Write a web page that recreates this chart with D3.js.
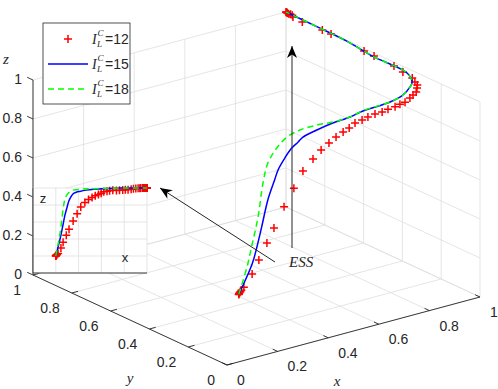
<!DOCTYPE html>
<html>
<head>
<meta charset="utf-8">
<script src="https://cdn.jsdelivr.net/npm/d3@7"></script>
<style>
  body { margin: 0; background: #fff; }
  svg { display: block; }
  text { font-family: Arial, "Liberation Sans", sans-serif; fill: #262626; }
  .latex { font-family: "Liberation Serif", "DejaVu Serif", serif; font-style: italic; }
</style>
</head>
<body>
<svg id="chart" width="498" height="389"></svg>
<script>
// tick values / labels shared by the three axes
var ticks = [0, 0.2, 0.4, 0.6, 0.8, 1];
var tickLabels = ["0", "0.2", "0.4", "0.6", "0.8", "1"];
var legendValues = [12, 15, 18];

// trajectories, points are [x, y, z]
var red12 = [
  [0.2, 0.2, 0.2], [0.201, 0.2, 0.203], [0.203, 0.2, 0.207], [0.206, 0.2, 0.212], [0.21, 0.2, 0.218],
  [0.22, 0.2, 0.23], [0.245, 0.19, 0.294], [0.264, 0.18, 0.363], [0.292, 0.175, 0.443],
  [0.316, 0.17, 0.514], [0.352, 0.165, 0.612], [0.387, 0.16, 0.698], [0.419, 0.155, 0.777],
  [0.455, 0.15, 0.828], [0.487, 0.15, 0.864], [0.518, 0.15, 0.889], [0.546, 0.15, 0.909],
  [0.574, 0.15, 0.925], [0.598, 0.15, 0.937], [0.621, 0.15, 0.955], [0.649, 0.15, 0.961],
  [0.672, 0.15, 0.968], [0.70, 0.15, 0.974], [0.732, 0.155, 0.97], [0.759, 0.16, 0.973],
  [0.787, 0.16, 0.976], [0.81, 0.165, 0.979], [0.834, 0.17, 0.978], [0.861, 0.18, 0.986],
  [0.881, 0.19, 0.99], [0.902, 0.201, 0.993], [0.922, 0.223, 0.996], [0.937, 0.241, 0.998],
  [0.945, 0.264, 1], [0.96, 0.297, 1], [0.969, 0.357, 1], [0.979, 0.416, 1], [0.983, 0.524, 1],
  [0.985, 0.578, 1], [0.994, 0.76, 1], [0.994, 0.805, 1], [0.987, 0.899, 1], [0.99, 0.951, 1],
  [0.998, 0.965, 1], [0.999, 0.975, 1], [0.997, 0.983, 1], [0.998, 0.991, 1], [1, 0.995, 1],
  [1, 0.998, 1], [1, 1, 1]
];
var blue15 = [
  [0.2, 0.2, 0.2], [0.23, 0.17, 0.36], [0.245, 0.165, 0.445], [0.26, 0.16, 0.545],
  [0.28, 0.154, 0.68], [0.30, 0.145, 0.78], [0.31, 0.14, 0.83], [0.33, 0.13, 0.89],
  [0.35, 0.125, 0.93], [0.38, 0.13, 0.95], [0.41, 0.143, 0.96], [0.467, 0.146, 0.975],
  [0.534, 0.151, 0.985], [0.605, 0.154, 0.99], [0.664, 0.165, 0.995], [0.775, 0.17, 1],
  [0.845, 0.195, 1], [0.906, 0.238, 1], [0.938, 0.269, 1], [0.974, 0.342, 1],
  [0.978, 0.52, 1], [0.995, 0.68, 1], [0.998, 0.836, 1], [1, 1, 1]
];
var green18 = [
  [0.2, 0.2, 0.2], [0.22, 0.184, 0.34], [0.235, 0.178, 0.45], [0.25, 0.166, 0.595],
  [0.265, 0.16, 0.767], [0.28, 0.154, 0.868], [0.31, 0.146, 0.94], [0.355, 0.153, 0.975],
  [0.414, 0.164, 0.985], [0.479, 0.16, 0.99], [0.535, 0.151, 0.99], [0.597, 0.147, 0.995],
  [0.664, 0.165, 0.997], [0.775, 0.17, 1], [0.845, 0.195, 1], [0.906, 0.238, 1],
  [0.938, 0.269, 1], [0.974, 0.342, 1], [0.978, 0.52, 1], [0.995, 0.68, 1],
  [0.998, 0.836, 1], [1, 1, 1]
];

var svg = d3.select("#chart");

// 3d projection (fixed view, like matlab's view angle)
var origin = [227, 365];
var xs = d3.scaleLinear().domain([0, 1]).range([0, 1]),
    ys = d3.scaleLinear().domain([0, 1]).range([0, 1]),
    zs = d3.scaleLinear().domain([0, 1]).range([0, -195]);
var ex = [253, -68], ey = [-194, -90];

function proj(x, y, z) {
  return [origin[0] + xs(x) * ex[0] + ys(y) * ey[0],
          origin[1] + xs(x) * ex[1] + ys(y) * ey[1] + zs(z)];
}
function seg(g, a, b, cls) {
  var p = proj.apply(null, a), q = proj.apply(null, b);
  return g.append("line").attr("class", cls)
    .attr("x1", p[0]).attr("y1", p[1]).attr("x2", q[0]).attr("y2", q[1]);
}

// grid on floor and the two back walls
var grid = svg.append("g").attr("stroke", "#dedede").attr("stroke-width", 0.8);
ticks.forEach(function (t) {
  seg(grid, [t, 0, 0], [t, 1, 0]);
  seg(grid, [0, t, 0], [1, t, 0]);
  seg(grid, [t, 1, 0], [t, 1, 1]);
  seg(grid, [0, 1, t], [1, 1, t]);
  seg(grid, [1, t, 0], [1, t, 1]);
  seg(grid, [1, 0, t], [1, 1, t]);
});

// axes
var ax = svg.append("g").attr("stroke", "#262626").attr("stroke-width", 0.9);
seg(ax, [0, 0, 0], [1, 0, 0]);
seg(ax, [0, 0, 0], [0, 1, 0]);
seg(ax, [0, 1, 0], [0, 1, 1]);
ticks.forEach(function (t) {
  seg(ax, [t, 0, 0], [t, 0.025, 0]);
  seg(ax, [0, t, 0], [0.025, t, 0]);
  seg(ax, [0, 1, t], [0, 1.03, t]);
});

var lab = svg.append("g").style("font-size", "14px");
ticks.forEach(function (t, i) {
  var p = proj(t, 0, 0);
  lab.append("text").attr("x", p[0] + 10).attr("y", p[1] + 20).text(tickLabels[i]);
  p = proj(0, t, 0);
  lab.append("text").attr("x", p[0] - 12).attr("y", p[1] + 20)
    .attr("text-anchor", "end").text(tickLabels[i]);
  p = proj(0, 1, t);
  lab.append("text").attr("x", p[0] - 11).attr("y", p[1] + 4)
    .attr("text-anchor", "end").text(tickLabels[i]);
});

svg.append("text").attr("class", "latex").attr("x", 337).attr("y", 386)
  .attr("text-anchor", "middle").style("font-size", "15px").text("x");
svg.append("text").attr("class", "latex").attr("x", 130).attr("y", 383)
  .attr("text-anchor", "middle").style("font-size", "15px").text("y");
svg.append("text").attr("class", "latex").attr("x", 6).attr("y", 64)
  .attr("text-anchor", "middle").style("font-size", "15px").text("z");

// trajectories
function plus(g, p, s) {
  g.append("path")
    .attr("d", "M" + (p[0] - s) + "," + p[1] + "H" + (p[0] + s) +
               "M" + p[0] + "," + (p[1] - s) + "V" + (p[1] + s));
}
var line3 = d3.line()
  .x(function (d) { return proj(d[0], d[1], d[2])[0]; })
  .y(function (d) { return proj(d[0], d[1], d[2])[1]; })
  .curve(d3.curveCatmullRom);

var mk = svg.append("g").attr("stroke", "#ff0000").attr("stroke-width", 1.5).attr("fill", "none");
red12.forEach(function (d) { plus(mk, proj(d[0], d[1], d[2]), 4); });

svg.append("path").datum(blue15).attr("d", line3)
  .attr("fill", "none").attr("stroke", "#0000ff").attr("stroke-width", 1.5);
svg.append("path").datum(green18).attr("d", line3)
  .attr("fill", "none").attr("stroke", "#00ff00").attr("stroke-width", 1.5)
  .attr("stroke-dasharray", "6,4");

// annotation arrows
function arrow(x1, y1, x2, y2) {
  var g = svg.append("g");
  g.append("line").attr("x1", x1).attr("y1", y1).attr("x2", x2).attr("y2", y2)
    .attr("stroke", "#262626").attr("stroke-width", 1);
  var a = Math.atan2(y2 - y1, x2 - x1), L = 12, W = 5;
  var ux = Math.cos(a), uy = Math.sin(a);
  var bx = x2 - ux * L, by = y2 - uy * L;
  var nx = x2 - ux * L * 0.7, ny = y2 - uy * L * 0.7;
  g.append("path")
    .attr("d", "M" + x2 + "," + y2 +
      "L" + (bx - uy * W) + "," + (by + ux * W) +
      "L" + nx + "," + ny +
      "L" + (bx + uy * W) + "," + (by - ux * W) + "Z")
    .attr("fill", "#000");
}
arrow(275, 262, 160, 188);
arrow(292, 248, 292, 46);
svg.append("text").attr("class", "latex").attr("x", 289).attr("y", 267)
  .style("font-size", "15px").text("ESS");

// inset: z against x
var ix = d3.scaleLinear().domain([0, 1]).range([33, 147]),
    iz = d3.scaleLinear().domain([0, 1]).range([273, 188]);
var inset = svg.append("g");
inset.append("rect").attr("x", ix(0)).attr("y", iz(1))
  .attr("width", ix(1) - ix(0)).attr("height", iz(0) - iz(1)).attr("fill", "#fff");
var ig = inset.append("g").attr("stroke", "#dedede").attr("stroke-width", 0.8);
ticks.forEach(function (t) {
  ig.append("line").attr("x1", ix(t)).attr("x2", ix(t)).attr("y1", iz(0)).attr("y2", iz(1));
  ig.append("line").attr("x1", ix(0)).attr("x2", ix(1)).attr("y1", iz(t)).attr("y2", iz(t));
});
inset.append("path").attr("d", "M" + ix(0) + "," + iz(1) + "V" + iz(0) + "H" + ix(1))
  .attr("fill", "none").attr("stroke", "#262626").attr("stroke-width", 0.9);
var imk = inset.append("g").attr("stroke", "#ff0000").attr("stroke-width", 1.5).attr("fill", "none");
red12.forEach(function (d) { plus(imk, [ix(d[0]), iz(d[2])], 4); });
var line2 = d3.line()
  .x(function (d) { return ix(d[0]); })
  .y(function (d) { return iz(d[2]); })
  .curve(d3.curveMonotoneX);
inset.append("path").datum(blue15).attr("d", line2)
  .attr("fill", "none").attr("stroke", "#0000ff").attr("stroke-width", 1.5);
inset.append("path").datum(green18).attr("d", line2)
  .attr("fill", "none").attr("stroke", "#00ff00").attr("stroke-width", 1.5)
  .attr("stroke-dasharray", "6,4");
inset.append("text").attr("x", 43).attr("y", 203).attr("text-anchor", "middle")
  .style("font-size", "13px").text("z");
inset.append("text").attr("x", 125).attr("y", 262).attr("text-anchor", "middle")
  .style("font-size", "13px").text("x");

// legend
var leg = svg.append("g");
leg.append("rect").attr("x", 43).attr("y", 23).attr("width", 87).attr("height", 81)
  .attr("fill", "#fff").attr("stroke", "#262626").attr("stroke-width", 0.8);
legendValues.forEach(function (v, i) {
  var cy = 39 + i * 25;
  if (i === 0) {
    var lg = leg.append("g").attr("stroke", "#ff0000").attr("stroke-width", 1.5);
    plus(lg, [68, cy], 4);
  } else {
    leg.append("line").attr("x1", 48).attr("x2", 88).attr("y1", cy).attr("y2", cy)
      .attr("stroke", i === 1 ? "#0000ff" : "#00ff00").attr("stroke-width", 1.5)
      .attr("stroke-dasharray", i === 2 ? "6,4" : null);
  }
  leg.append("text").attr("class", "latex").attr("x", 92).attr("y", cy + 5)
    .style("font-size", "14px").text("I");
  leg.append("text").attr("class", "latex").attr("x", 97.5).attr("y", cy - 3)
    .style("font-size", "9px").text("C");
  leg.append("text").attr("class", "latex").attr("x", 97).attr("y", cy + 8)
    .style("font-size", "9px").text("L");
  leg.append("text").attr("x", 105).attr("y", cy + 5)
    .style("font-size", "14px").text("=" + v);
});
</script>
</body>
</html>
